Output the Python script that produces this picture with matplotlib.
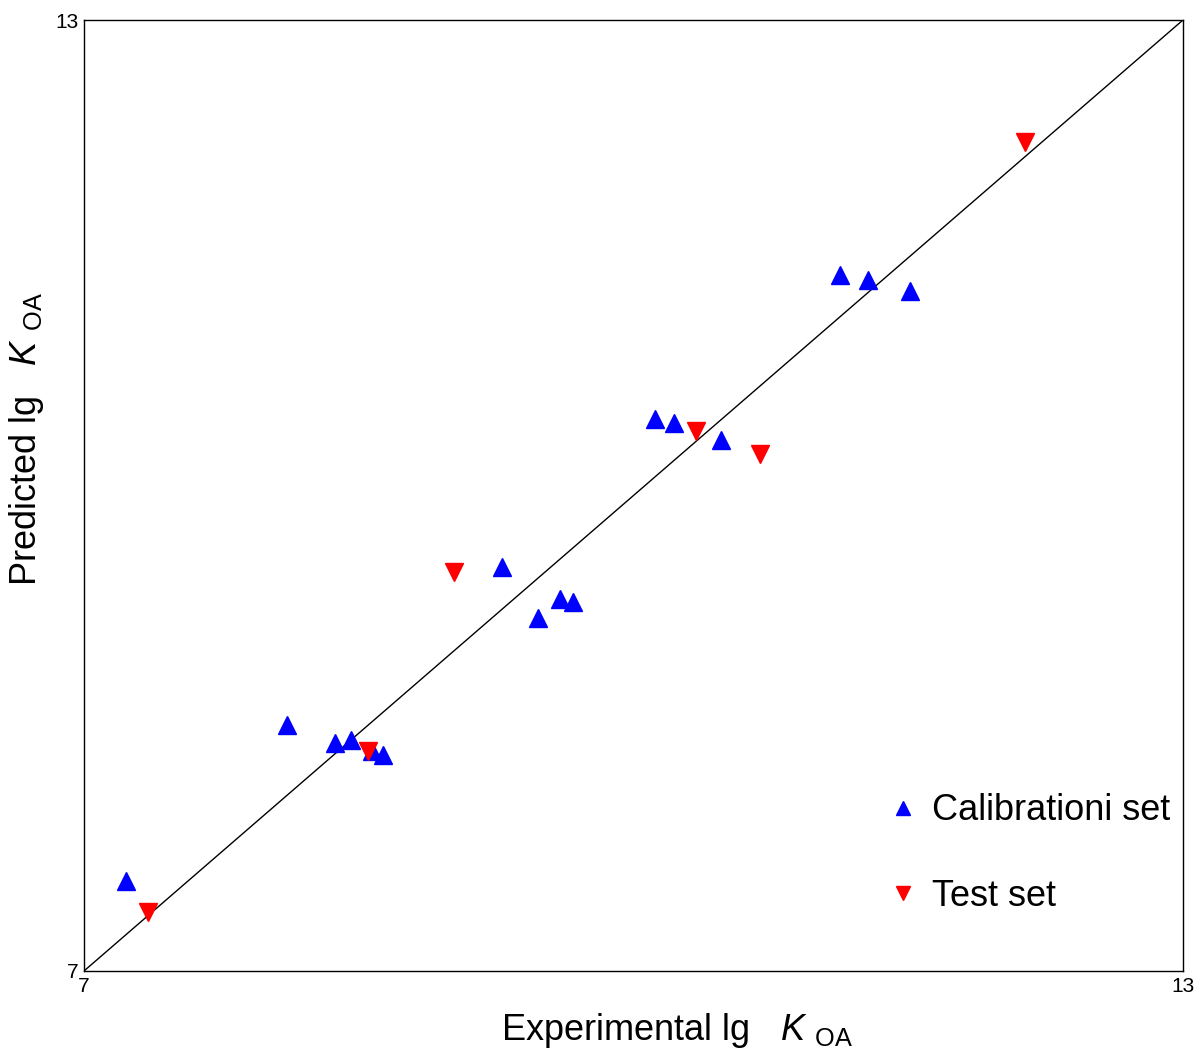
import numpy as np
import matplotlib.pyplot as plt

plt.rcParams['font.family'] = ['Liberation Sans', 'DejaVu Sans']
plt.rcParams['mathtext.fontset'] = 'custom'
plt.rcParams['mathtext.rm'] = 'Liberation Sans'
plt.rcParams['mathtext.it'] = 'Liberation Sans:italic'

# calibration set (blue, up triangles)
cal_exp = [7.23, 8.11, 8.37, 8.46, 8.57, 8.63, 9.28, 9.48, 9.60, 9.67,
           10.12, 10.22, 10.48, 11.13, 11.28, 11.51]
cal_pred = [7.57, 8.55, 8.44, 8.46, 8.39, 8.36, 9.55, 9.23, 9.35, 9.33,
            10.48, 10.46, 10.35, 11.39, 11.36, 11.29]

# test set (red, down triangles)
test_exp = [7.35, 8.55, 9.02, 10.34, 10.69, 12.14]
test_pred = [7.37, 8.39, 9.52, 10.41, 10.26, 12.23]

lims = [7, 13]

fig = plt.figure(figsize=(12, 10.59), dpi=100)
ax = fig.add_axes([0.07, 0.0831, 0.9158, 0.898])

ax.plot(lims, lims, color='black', lw=1.0, zorder=1)
ax.plot(cal_exp, cal_pred, linestyle='none', marker='^', ms=13,
        color='#0000ff', label='Calibrationi set', zorder=2)
ax.plot(test_exp, test_pred, linestyle='none', marker='v', ms=13,
        color='#ff0000', label='Test set', zorder=3)

ax.set_xlim(lims)
ax.set_ylim(lims)
ax.set_xticks(lims)
ax.set_yticks(lims)
ax.tick_params(length=0, labelsize=15, pad=4)
for sp in ax.spines.values():
    sp.set_linewidth(1.0)

ax.set_xlabel(r'Experimental lg   $\it{K}$ $_{\mathrm{OA}}$', fontsize=26)
ax.set_ylabel(r'Predicted lg   $\it{K}$ $_{\mathrm{OA}}$', fontsize=26)
ax.xaxis.set_label_coords(0.54, -0.042)
ax.yaxis.set_label_coords(-0.035, 0.559)

ax.legend(loc='lower right', bbox_to_anchor=(1.018, 0.026), frameon=False,
          fontsize=26, markerscale=0.75, labelspacing=1.4, handletextpad=0.3,
          handlelength=1.0)

fig.savefig('out.png', dpi=100)
